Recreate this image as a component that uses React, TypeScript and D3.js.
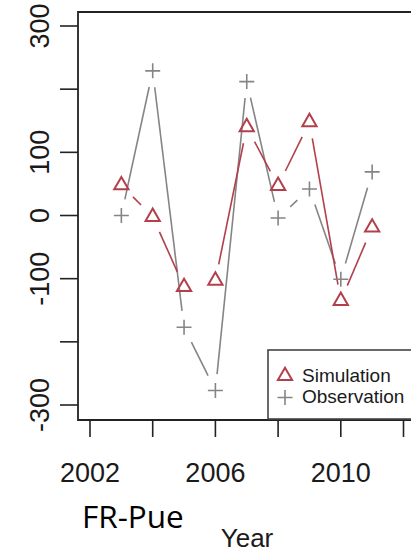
import React from "react";
import * as d3 from "d3";

const years = [2003, 2004, 2005, 2006, 2007, 2008, 2009, 2010, 2011];
const simulation = [48, -2, -113, -103, 140, 47, 148, -135, -19];
const observation = [0, 229, -177, -277, 212, -4, 42, -101, 69];
const yTicks = [-300, -200, -100, 0, 100, 200, 300];
const yTickLabels = ["-300", "", "-100", "0", "100", "", "300"];
const xTicks = [2002, 2004, 2006, 2008, 2010, 2012];
const xTickLabels = ["2002", "", "2006", "", "2010", ""];
const legendLabels = ["Simulation", "Observation"];

const RED = "#b2404c";
const GRAY = "#858585";
const AXIS = "#222";
const FONT = "'Liberation Sans', Arial, Helvetica, sans-serif";

const x = d3.scaleLinear().domain([2002, 2012]).range([90, 403.5]);
const y = d3.scaleLinear().domain([-300, 300]).range([405, 26]);

function gapSegments(xs: number[], vs: number[], gap: number) {
  const segs: [number, number, number, number][] = [];
  for (let i = 0; i < xs.length - 1; i++) {
    const x1 = x(xs[i]), y1 = y(vs[i]);
    const x2 = x(xs[i + 1]), y2 = y(vs[i + 1]);
    const dx = x2 - x1, dy = y2 - y1;
    const d = Math.hypot(dx, dy);
    if (d > 2 * gap) {
      const ux = dx / d, uy = dy / d;
      segs.push([x1 + ux * gap, y1 + uy * gap, x2 - ux * gap, y2 - uy * gap]);
    }
  }
  return segs;
}

function triPath(cx: number, cy: number, s = 5.3) {
  const r = 1.5551 * s, xc = 1.3468 * s, yc = 0.7776 * s;
  return `M${cx},${cy - r}L${cx + xc},${cy + yc}L${cx - xc},${cy + yc}Z`;
}

function plusPath(cx: number, cy: number, h = 7.5) {
  return `M${cx - h},${cy}H${cx + h}M${cx},${cy - h}V${cy + h}`;
}

export default function App() {
  const simSegs = gapSegments(years, simulation, 16.5);
  const obsSegs = gapSegments(years, observation, 16.5);
  return (
    <svg
      width={411}
      height={552}
      style={{ position: "absolute", left: 0, top: 0, background: "#fff" }}
    >
      <rect x={0} y={0} width={411} height={552} fill="#fff" />
      {obsSegs.map((s, i) => (
        <line key={"o" + i} x1={s[0]} y1={s[1]} x2={s[2]} y2={s[3]} stroke={GRAY} strokeWidth={1.6} />
      ))}
      {simSegs.map((s, i) => (
        <line key={"s" + i} x1={s[0]} y1={s[1]} x2={s[2]} y2={s[3]} stroke={RED} strokeWidth={1.6} />
      ))}
      {years.map((yr, i) => (
        <path key={"pt" + i} d={triPath(x(yr), y(simulation[i]))} fill="none" stroke={RED} strokeWidth={2} />
      ))}
      {years.map((yr, i) => (
        <path key={"po" + i} d={plusPath(x(yr), y(observation[i]))} fill="none" stroke={GRAY} strokeWidth={1.6} />
      ))}
      <path d="M420,12H78V420H420" fill="none" stroke={AXIS} strokeWidth={1.8} />
      {yTicks.map((t, i) => (
        <g key={"yt" + i}>
          <line x1={60} x2={78} y1={y(t)} y2={y(t)} stroke={AXIS} strokeWidth={1.6} />
          {yTickLabels[i] && (
            <text
              transform={`translate(49,${y(t)}) rotate(-90)`}
              textAnchor="middle"
              fontFamily={FONT}
              fontSize={27}
              fill="#1a1a1a"
            >
              {yTickLabels[i]}
            </text>
          )}
        </g>
      ))}
      {xTicks.map((t, i) => (
        <g key={"xt" + i}>
          <line x1={x(t)} x2={x(t)} y1={420} y2={437} stroke={AXIS} strokeWidth={1.6} />
          {xTickLabels[i] && (
            <text x={x(t)} y={481.5} textAnchor="middle" fontFamily={FONT} fontSize={27} fill="#1a1a1a">
              {xTickLabels[i]}
            </text>
          )}
        </g>
      ))}
      <text x={247} y={547} textAnchor="middle" fontFamily={FONT} fontSize={26} fill="#1a1a1a">
        Year
      </text>
      <text x={82} y={528} fontFamily="'Open Sans', 'Noto Sans', sans-serif" fontSize={31.5} fill="#000">
        FR-Pue
      </text>
      <rect x={268} y={350} width={160} height={69} fill="#fff" stroke="#444" strokeWidth={1.6} />
      <path d={triPath(285, 376)} fill="none" stroke={RED} strokeWidth={2} />
      <path d={plusPath(285, 397.5)} fill="none" stroke={GRAY} strokeWidth={1.6} />
      <text x={302} y={381.7} fontFamily={FONT} fontSize={19} fill="#1a1a1a">
        {legendLabels[0]}
      </text>
      <text x={302} y={403.3} fontFamily={FONT} fontSize={19} fill="#1a1a1a">
        {legendLabels[1]}
      </text>
    </svg>
  );
}
